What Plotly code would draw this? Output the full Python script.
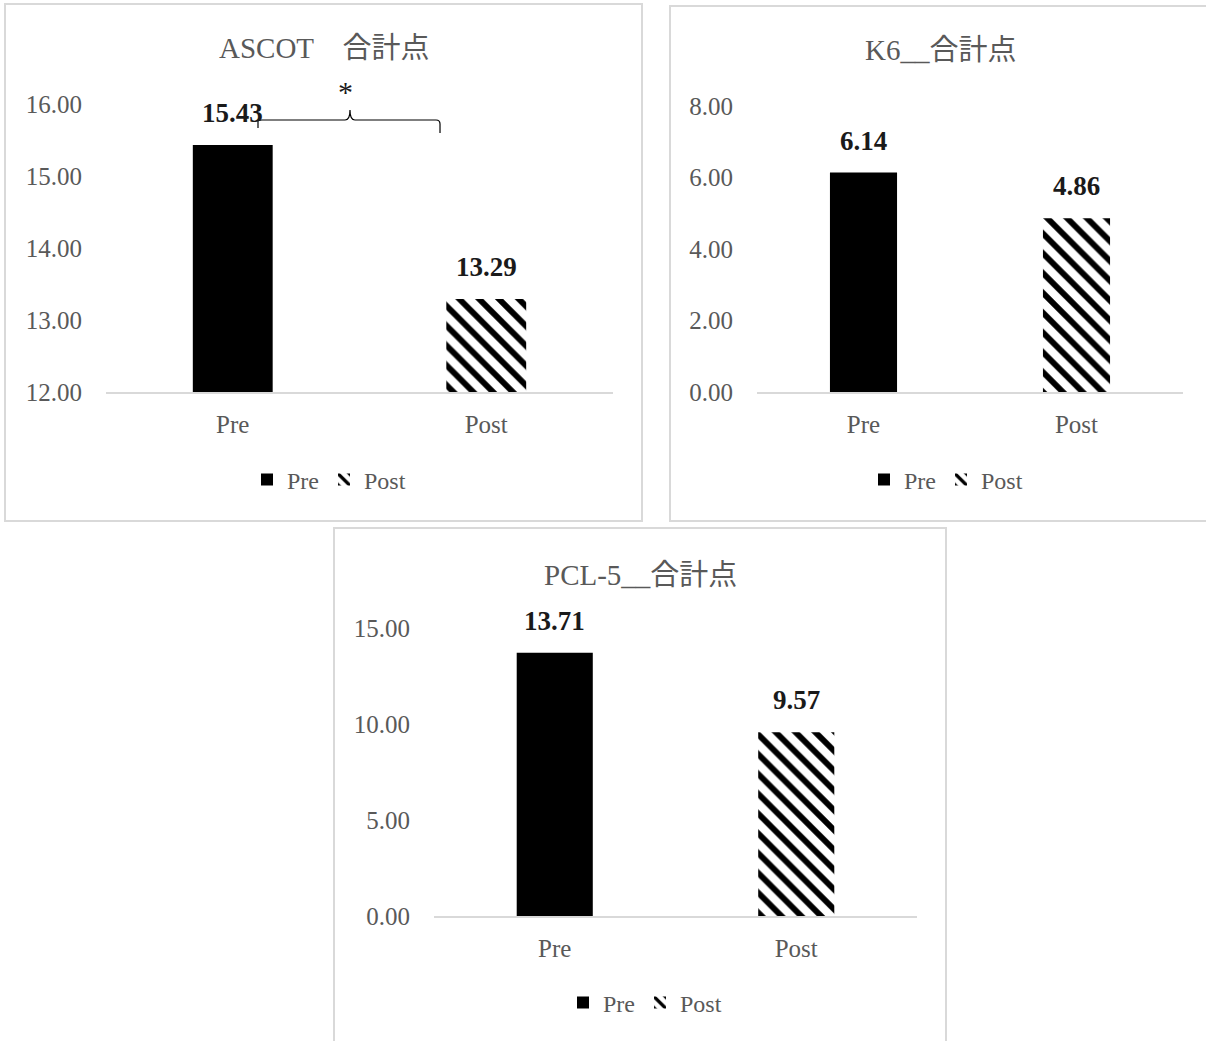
import plotly.graph_objects as go

# Category labels and series values
categories = ["Pre", "Post"]
series_names = ["Pre", "Post"]

ascot_values = [15.43, 13.29]
k6_values = [6.14, 4.86]
pcl5_values = [13.71, 9.57]

titles = ["ASCOT\u3000合計点", "K6__合計点", "PCL-5__合計点"]

ascot_ticks = [12, 13, 14, 15, 16]
k6_ticks = [0, 2, 4, 6, 8]
pcl5_ticks = [0, 5, 10, 15]

W, H = 1206, 1041
FONT = "Liberation Serif, 'Noto Sans CJK JP', serif"
GRAY = "#595959"
BORDER = "#d9d9d9"


def px_x(p):
    return p / W


def px_y(p):
    return 1 - p / H


fig = go.Figure()

# panel definitions: pixel boxes of the plot area and legend placement
panels = [
    dict(values=ascot_values, ticks=ascot_ticks, rng=[12, 16], title=titles[0],
         xd=(106, 613), yd=(104, 392), title_xy=(324, 48), legend_xy=(329, 480),
         box=(5, 4, 642, 521)),
    dict(values=k6_values, ticks=k6_ticks, rng=[0, 8], title=titles[1],
         xd=(757, 1183), yd=(106, 392), title_xy=(941, 50), legend_xy=(946, 480),
         box=(670, 6, 1215, 521)),
    dict(values=pcl5_values, ticks=pcl5_ticks, rng=[0, 15], title=titles[2],
         xd=(434, 917), yd=(628, 916), title_xy=(640, 575), legend_xy=(645, 1003),
         box=(334, 528, 946, 1050)),
]

shapes = []
annotations = []

for i, p in enumerate(panels, start=1):
    xa = "x" if i == 1 else f"x{i}"
    ya = "y" if i == 1 else f"y{i}"
    lg = "legend" if i == 1 else f"legend{i}"

    for j, (name, val) in enumerate(zip(series_names, p["values"])):
        if j == 0:
            marker = dict(color="#000000", line=dict(width=0))
        else:
            marker = dict(color="#ffffff", line=dict(width=0),
                          pattern=dict(shape="\\", fillmode="replace", fgcolor="#000000",
                                       bgcolor="#ffffff", fgopacity=1,
                                       size=14, solidity=0.42))
        fig.add_trace(go.Bar(
            x=[j], y=[val], name=name, marker=marker, width=0.315,
            xaxis=xa, yaxis=ya, legend=lg, showlegend=True,
            hoverinfo="skip",
        ))
        annotations.append(dict(
            x=j, y=val, xref=xa, yref=ya, text=f"{val:.2f}", showarrow=False,
            yanchor="middle", yshift=32,
            font=dict(family=FONT, size=27, color="#1a1a1a", weight="bold"),
        ))

    axis_x = dict(
        domain=[px_x(p["xd"][0]), px_x(p["xd"][1])], range=[-0.5, 1.5],
        tickvals=[0, 1], ticktext=categories, showline=True, linecolor=BORDER,
        linewidth=1.5, showgrid=False, zeroline=False, ticks="",
        tickfont=dict(family=FONT, size=25, color=GRAY), ticklabelstandoff=9,
        anchor=ya, fixedrange=True, automargin=False,
    )
    axis_y = dict(
        domain=[px_y(p["yd"][1]), px_y(p["yd"][0])], range=p["rng"],
        tickvals=p["ticks"], tickformat=".2f", showgrid=False, showline=False,
        zeroline=False, ticks="", tickfont=dict(family=FONT, size=25, color=GRAY),
        ticklabelstandoff=23, anchor=xa, fixedrange=True, automargin=False,
    )
    fig.update_layout(**{("xaxis" if i == 1 else f"xaxis{i}"): axis_x,
                         ("yaxis" if i == 1 else f"yaxis{i}"): axis_y})

    fig.update_layout(**{lg: dict(
        orientation="h", x=px_x(p["legend_xy"][0]), y=px_y(p["legend_xy"][1]),
        xanchor="center", yanchor="middle", xref="paper", yref="paper",
        font=dict(family=FONT, size=24, color=GRAY), bgcolor="rgba(0,0,0,0)",
        itemwidth=30, tracegroupgap=0,
    )})

    annotations.append(dict(
        x=px_x(p["title_xy"][0]), y=px_y(p["title_xy"][1]), xref="paper", yref="paper",
        text=p["title"], showarrow=False, xanchor="center", yanchor="middle",
        font=dict(family=FONT, size=29, color=GRAY),
    ))

    bx0, by0, bx1, by1 = p["box"]
    shapes.append(dict(
        type="rect", xref="paper", yref="paper",
        x0=px_x(bx0), x1=px_x(bx1), y0=px_y(by1), y1=px_y(by0),
        line=dict(color=BORDER, width=2), fillcolor="rgba(0,0,0,0)", layer="below",
    ))

# significance brace between Pre and Post on the ASCOT chart
brace = (
    "M 0.0996 15.667 L 0.0996 15.764 Q 0.0996 15.778 0.115 15.778 "
    "L 0.443 15.778 Q 0.4625 15.778 0.4625 15.917 Q 0.4625 15.778 0.482 15.778 "
    "L 0.802 15.778 Q 0.8176 15.778 0.8176 15.722 L 0.8176 15.597"
)
shapes.append(dict(type="path", xref="x", yref="y", path=brace,
                   line=dict(color="#000000", width=1.2)))
annotations.append(dict(x=0.443, y=15.917, xref="x", yref="y", text="*", showarrow=False,
                        yanchor="bottom", yshift=0,
                        font=dict(family=FONT, size=30, color="#1a1a1a")))

fig.update_layout(
    template="none",
    width=W, height=H, margin=dict(l=0, r=0, t=0, b=0, autoexpand=False),
    paper_bgcolor="#ffffff", plot_bgcolor="#ffffff",
    shapes=shapes, annotations=annotations, barmode="overlay",
    font=dict(family=FONT, color=GRAY),
)

fig.write_html("out.html")
